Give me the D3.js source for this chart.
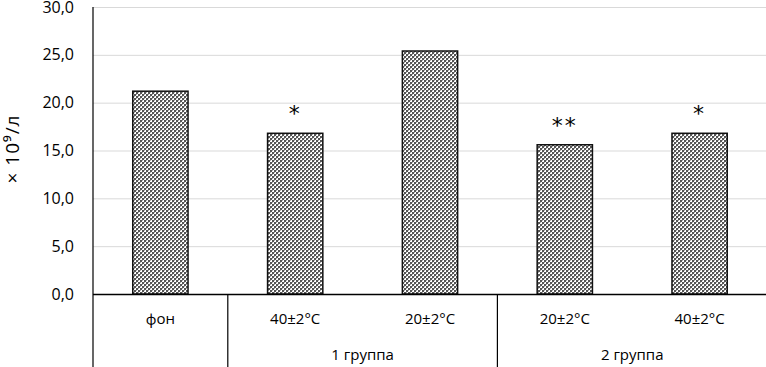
<!DOCTYPE html>
<html>
<head>
<meta charset="utf-8">
<script src="https://cdn.jsdelivr.net/npm/d3@7"></script>
<style>
  body { margin: 0; background: #fff; }
  svg { display: block; font-family: "Open Sans", "DejaVu Sans", sans-serif; }
</style>
</head>
<body>
<svg width="766" height="367"></svg>
<script>
// данные
const categories = ["фон", "40±2°C", "20±2°C", "20±2°C", "40±2°C"];
const values = [21.2, 16.8, 25.4, 15.6, 16.8];
const stars = ["", "*", "", "**", "*"];
const groups = [
    { label: "1 группа", from: 1, to: 2 },
    { label: "2 группа", from: 3, to: 4 }
];
const yTicks = [0, 5, 10, 15, 20, 25, 30];

const svg = d3.select("svg");
const attrArea = { left: 93, right: 767, top: 7, bottom: 294, height: 367 };

// узор штриховки столбцов
const defs = svg.append("defs");
const pat = defs.append("pattern")
    .attr("id", "checker")
    .attr("patternUnits", "userSpaceOnUse")
    .attr("width", 4)
    .attr("height", 4);
pat.append("rect").attr("width", 4).attr("height", 4).attr("fill", "#ffffff");
pat.append("rect").attr("x", 0).attr("y", 0).attr("width", 2).attr("height", 2).attr("fill", "#555");
pat.append("rect").attr("x", 2).attr("y", 2).attr("width", 2).attr("height", 2).attr("fill", "#555");
pat.append("rect").attr("x", 2).attr("y", 0).attr("width", 1).attr("height", 1).attr("fill", "#aaa");
pat.append("rect").attr("x", 0).attr("y", 2).attr("width", 1).attr("height", 1).attr("fill", "#aaa");

const scaleX = d3.scaleBand()
    .domain(d3.range(categories.length))
    .range([attrArea.left, attrArea.right])
    .paddingInner(0.59)
    .paddingOuter(0.295);

const scaleY = d3.scaleLinear()
    .domain([0, 30])
    .range([attrArea.bottom, attrArea.top]);

const step = scaleX.step();
const bandStart = i => attrArea.left + i * step;

// сетка
svg.append("g")
    .selectAll("line")
    .data(yTicks.slice(1))
    .enter()
    .append("line")
    .attr("x1", attrArea.left)
    .attr("x2", attrArea.right)
    .attr("y1", d => scaleY(d) + 0.5)
    .attr("y2", d => scaleY(d) + 0.5)
    .attr("stroke", "#d9d9d9")
    .attr("stroke-width", 1);

// подписи оси Y
const axisY = d3.axisLeft(scaleY)
    .tickValues(yTicks)
    .tickSize(0)
    .tickPadding(19)
    .tickFormat(d => d3.format(".1f")(d).replace(".", ","));

const gY = svg.append("g")
    .attr("transform", `translate(${attrArea.left}, 0)`)
    .call(axisY);
gY.select(".domain").remove();
gY.selectAll("text")
    .style("font-family", "'Open Sans', sans-serif")
    .style("font-size", "16px")
    .attr("fill", "#000");

// столбцы
svg.append("g")
    .selectAll("rect")
    .data(values)
    .enter()
    .append("rect")
    .attr("x", (d, i) => scaleX(i))
    .attr("y", d => scaleY(d))
    .attr("width", scaleX.bandwidth())
    .attr("height", d => scaleY(0) - scaleY(d))
    .attr("fill", "url(#checker)")
    .attr("stroke", "#111")
    .attr("stroke-width", 1.5);

// звёздочки значимости
svg.append("g")
    .selectAll("text")
    .data(values)
    .enter()
    .append("text")
    .attr("x", (d, i) => scaleX(i) + scaleX.bandwidth() / 2)
    .attr("y", d => scaleY(d) - 12)
    .attr("text-anchor", "middle")
    .style("font-family", "'DejaVu Sans', sans-serif")
    .style("font-size", "22px")
    .style("letter-spacing", "2px")
    .text((d, i) => stars[i]);

// оси
svg.append("line")
    .attr("x1", attrArea.left).attr("x2", attrArea.right)
    .attr("y1", attrArea.bottom + 0.5).attr("y2", attrArea.bottom + 0.5)
    .attr("stroke", "#000").attr("stroke-width", 1.5);
svg.append("line")
    .attr("x1", attrArea.left).attr("x2", attrArea.left)
    .attr("y1", attrArea.top).attr("y2", attrArea.height)
    .attr("stroke", "#000").attr("stroke-width", 1.2);

// разделители категорий
const separators = [1, 3, 5];
svg.append("g")
    .selectAll("line")
    .data(separators)
    .enter()
    .append("line")
    .attr("x1", d => bandStart(d))
    .attr("x2", d => bandStart(d))
    .attr("y1", attrArea.bottom)
    .attr("y2", attrArea.height)
    .attr("stroke", "#000")
    .attr("stroke-width", 1.2);

// подписи категорий
svg.append("g")
    .selectAll("text")
    .data(categories)
    .enter()
    .append("text")
    .attr("x", (d, i) => scaleX(i) + scaleX.bandwidth() / 2)
    .attr("y", 324)
    .attr("text-anchor", "middle")
    .style("font-size", "15px")
    .text(d => d);

// подписи групп
svg.append("g")
    .selectAll("text")
    .data(groups)
    .enter()
    .append("text")
    .attr("x", d => (bandStart(d.from) + bandStart(d.to + 1)) / 2)
    .attr("y", 360)
    .attr("text-anchor", "middle")
    .style("font-size", "15px")
    .text(d => d.label);

// подпись оси Y
svg.append("text")
    .attr("transform", "translate(19, 149) rotate(-90)")
    .attr("text-anchor", "middle")
    .style("font-size", "19px")
    .style("letter-spacing", "1px")
    .text("× 10⁹/л");
</script>
</body>
</html>
